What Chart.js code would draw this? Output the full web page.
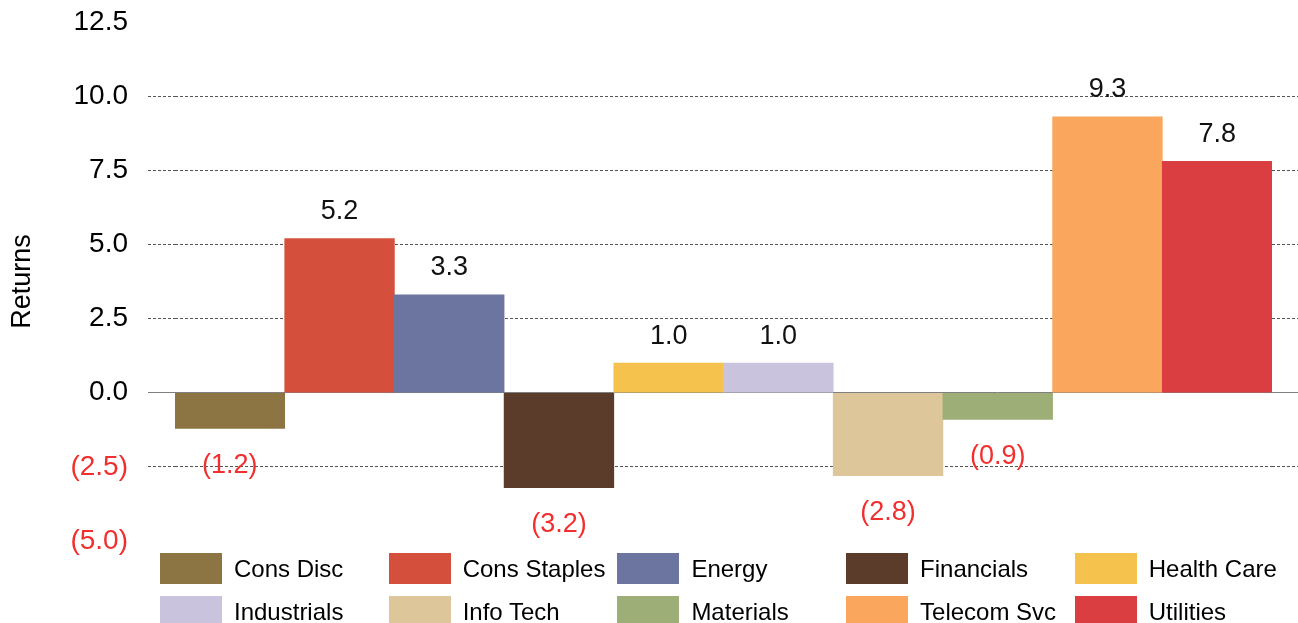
<!DOCTYPE html>
<html><head><meta charset="utf-8">
<script src="https://cdn.jsdelivr.net/npm/chart.js@4.4.1/dist/chart.umd.min.js"></script>
<style>
html,body{margin:0;padding:0;background:#fff;overflow:hidden}
#wrap{position:relative;width:1298px;height:623px}
#c{position:absolute;left:0;top:0}
#legend{position:absolute;left:160px;top:553px;display:grid;grid-template-columns:repeat(5,228.7px);row-gap:12px;font-family:'Liberation Sans',Arial,sans-serif;font-size:24px;color:#000}
.item{display:flex;align-items:center;height:31px;white-space:nowrap}
.box{width:62px;height:31px;margin-right:12px;flex:none}
</style></head>
<body>
<div id="wrap"><canvas id="c" width="1298" height="623"></canvas><div id="legend"></div></div>
<script>
const categories = ['Cons Disc','Cons Staples','Energy','Financials','Health Care','Industrials','Info Tech','Materials','Telecom Svc','Utilities'];
const returnsValues = [-1.2, 5.2, 3.3, -3.2, 1.0, 1.0, -2.8, -0.9, 9.3, 7.8];
const barColors = ['#8C7543','#D4503C','#6C75A0','#5B3B2A','#F6C24E','#C9C3DE','#DCC69A','#9DAF76','#FAA65C','#DA3E40'];
const yTickValues = [-5, -2.5, 0, 2.5, 5, 7.5, 10, 12.5];
const axisTitle = 'Returns';

const FONT = "'Liberation Sans', Arial, sans-serif";
const RED = '#F22E2E';
const fmt = v => v < 0 ? '(' + Math.abs(v).toFixed(1) + ')' : v.toFixed(1);

// legend
const lg = document.getElementById('legend');
categories.forEach((c, i) => {
  const it = document.createElement('div'); it.className = 'item';
  const b = document.createElement('div'); b.className = 'box'; b.style.background = barColors[i];
  const t = document.createElement('span'); t.textContent = c;
  it.appendChild(b); it.appendChild(t); lg.appendChild(it);
});

const gridColor = ctx => {
  const v = ctx.tick ? ctx.tick.value : null;
  if (v === 0) return '#808080';
  if (v === 12.5 || v === -5) return 'rgba(0,0,0,0)';
  return '#555';
};
const gridDash = ctx => (ctx.tick && ctx.tick.value === 0) ? [] : [3, 2];

const labelPlugin = {
  id: 'barLabels',
  afterDatasetsDraw(chart) {
    const {ctx} = chart;
    const meta = chart.getDatasetMeta(0);
    ctx.save();
    ctx.font = '27px ' + FONT;
    ctx.textAlign = 'center';
    ctx.textBaseline = 'middle';
    meta.data.forEach((el, i) => {
      const v = returnsValues[i];
      if (v >= 0) { ctx.fillStyle = '#111'; ctx.fillText(fmt(v), el.x, el.y - 27); }
      else { ctx.fillStyle = RED; ctx.fillText(fmt(v), el.x, el.y + 37); }
    });
    ctx.restore();
  }
};

new Chart(document.getElementById('c'), {
  type: 'bar',
  data: { labels: categories, datasets: [{ data: returnsValues, backgroundColor: barColors, borderWidth: 0, barPercentage: 1, categoryPercentage: 1 }] },
  options: {
    responsive: false, animation: false,
    layout: { padding: { top: 22, bottom: 82, left: 0, right: 0 } },
    plugins: { legend: { display: false }, tooltip: { enabled: false } },
    scales: {
      x: { display: false },
      y: {
        position: 'left', min: -5, max: 12.5,
        afterBuildTicks: s => { s.ticks = yTickValues.map(v => ({ value: v })); },
        afterFit: s => { s.width = 175; s.paddingTop = 0; s.paddingBottom = 0; },
        title: { display: true, text: axisTitle, font: { family: FONT, size: 27 }, color: '#000', padding: { top: 6, bottom: 0 } },
        ticks: { padding: 20, font: { family: FONT, size: 28 }, color: c => c.tick.value < 0 ? RED : '#000', callback: v => fmt(v) },
        grid: { color: gridColor, lineWidth: 1, drawTicks: true, tickLength: 27, tickColor: gridColor, tickBorderDash: gridDash, borderDash: gridDash },
        border: { display: false, dash: gridDash }
      },
      y2: {
        position: 'right', min: -5, max: 12.5,
        afterBuildTicks: s => { s.ticks = yTickValues.map(v => ({ value: v })); },
        afterFit: s => { s.width = 26; s.paddingTop = 0; s.paddingBottom = 0; },
        ticks: { display: false },
        grid: { drawOnChartArea: false, drawTicks: true, tickLength: 26, tickColor: gridColor, tickBorderDash: gridDash, color: gridColor },
        border: { display: false }
      }
    }
  },
  plugins: [labelPlugin]
});
</script>
</body></html>
